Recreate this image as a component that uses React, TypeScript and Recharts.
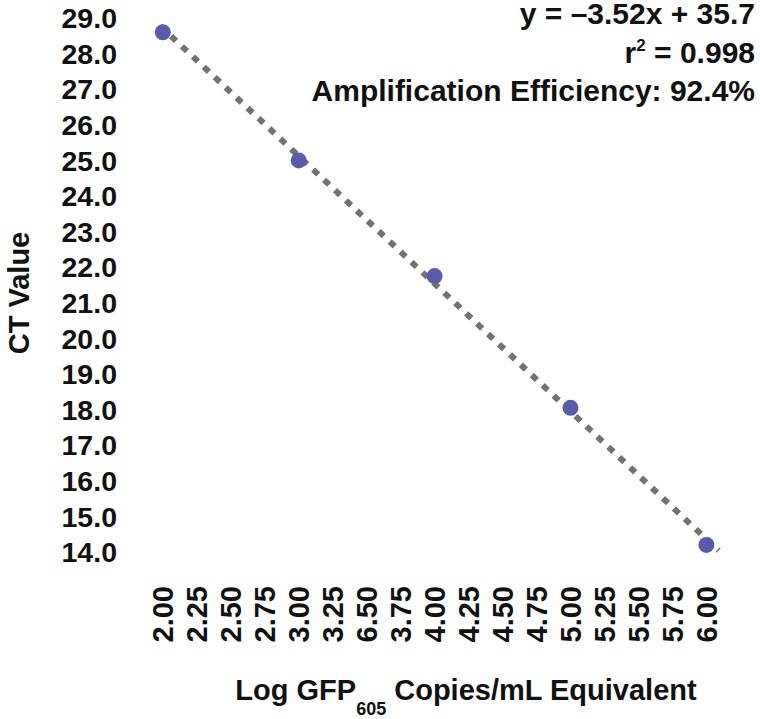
import { ComposedChart, Scatter, XAxis, YAxis, Label } from "recharts"

// standard curve points
const logCopies = [2, 3, 4, 5, 6]
const ctValues = [28.6, 25.0, 21.75, 18.05, 14.2]

// dotted trend line end points
const trendX = [1.98, 6.09]
const trendY = [28.78, 14.04]

const xTicks = [2, 2.25, 2.5, 2.75, 3, 3.25, 3.5, 3.75, 4, 4.25, 4.5, 4.75, 5, 5.25, 5.5, 5.75, 6]
const xTickLabels = [
  "2.00", "2.25", "2.50", "2.75", "3.00", "3.25", "6.50", "3.75", "4.00",
  "4.25", "4.50", "4.75", "5.00", "5.25", "5.50", "5.75", "6.00",
]
const yTicks = [14, 15, 16, 17, 18, 19, 20, 21, 22, 23, 24, 25, 26, 27, 28, 29]

const points = logCopies.map((x, i) => ({ x, y: ctValues[i] }))
const trend = trendX.map((x, i) => ({ x, y: trendY[i] }))

const FONT = '"Liberation Sans", Arial, Helvetica, sans-serif'
const INK = "#111111"

const XTick = (props: any) => {
  const { x, y, index } = props
  return (
    <text
      x={x}
      y={y}
      transform={`rotate(-90, ${x}, ${y})`}
      textAnchor="end"
      dy="0.36em"
      fill={INK}
      fontSize={29}
      fontWeight={700}
      fontFamily={FONT}
    >
      {xTickLabels[index]}
    </text>
  )
}

const App = () => {
  return (
    <div style={{ position: "absolute", left: 0, top: 0 }}>
      <ComposedChart
        width={760}
        height={719}
        margin={{ top: 18, right: 40, bottom: 0, left: 0 }}
        style={{ fontFamily: FONT }}
      >
        <XAxis
          type="number"
          dataKey="x"
          domain={[1.95, 6.1]}
          ticks={xTicks}
          interval={0}
          axisLine={false}
          tickLine={false}
          tickSize={6}
          tickMargin={28}
          height={167}
          tick={<XTick />}
        >
          <Label
            content={({ viewBox }: any) => (
              <text
                x={viewBox.x + viewBox.width / 2 + 28}
                y={700}
                textAnchor="middle"
                fill={INK}
                fontSize={29}
                fontWeight={700}
                fontFamily={FONT}
              >
                Log GFP
                <tspan fontSize={18} dy={15}>605</tspan>
                <tspan dy={-15}> Copies/mL Equivalent</tspan>
              </text>
            )}
          />
        </XAxis>
        <YAxis
          type="number"
          dataKey="y"
          domain={[14, 29]}
          ticks={yTicks}
          interval={0}
          axisLine={false}
          tickLine={false}
          tickSize={6}
          tickMargin={33}
          width={156}
          tickFormatter={(v: number) => v.toFixed(1)}
          tick={{ fill: INK, fontSize: 28.5, fontWeight: 700, fontFamily: FONT }}
        >
          <Label
            content={({ viewBox }: any) => {
              const cx = 19
              const cy = viewBox.y + viewBox.height / 2 + 8
              return (
                <text
                  x={cx}
                  y={cy}
                  transform={`rotate(-90, ${cx}, ${cy})`}
                  textAnchor="middle"
                  dy="0.36em"
                  fill={INK}
                  fontSize={29}
                  fontWeight={700}
                  fontFamily={FONT}
                >
                  CT Value
                </text>
              )
            }}
          />
        </YAxis>
        <Scatter
          data={trend}
          line={{ stroke: "#727272", strokeWidth: 6, strokeDasharray: "7 8" }}
          shape={() => <g />}
          isAnimationActive={false}
        />
        <Scatter
          data={points}
          fill="#5B5BAA"
          shape={(p: any) => <circle cx={p.cx} cy={p.cy} r={8} fill="#5B5BAA" />}
          isAnimationActive={false}
        />
        <text textAnchor="end" fill={INK} fontSize={30} fontWeight={700} fontFamily={FONT}>
          <tspan x={755} y={24}>y = –3.52x + 35.7</tspan>
          <tspan x={755} y={63}>
            r<tspan fontSize={17} dy={-12}>2</tspan>
            <tspan dy={12}> = 0.998</tspan>
          </tspan>
          <tspan x={755} y={101}>Amplification Efficiency: 92.4%</tspan>
        </text>
      </ComposedChart>
    </div>
  )
}

export default App
